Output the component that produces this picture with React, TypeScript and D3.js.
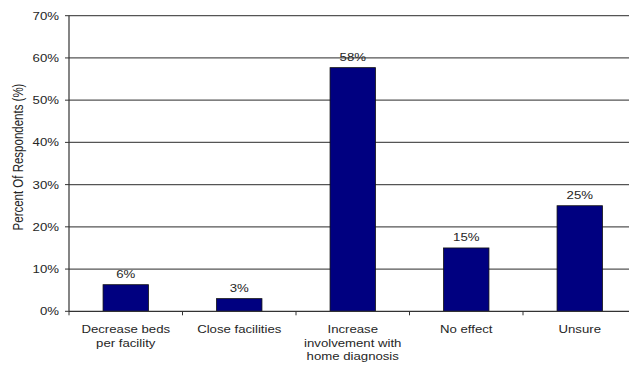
import * as d3 from 'd3';

const categories = ['Decrease beds per facility', 'Close facilities', 'Increase involvement with home diagnosis', 'No effect', 'Unsure'];
const categoryLines = [
  ['Decrease beds', 'per facility'],
  ['Close facilities'],
  ['Increase', 'involvement with', 'home diagnosis'],
  ['No effect'],
  ['Unsure'],
];
const values = [6.3, 3, 57.7, 15, 25];
const yTicks = [0, 10, 20, 30, 40, 50, 60, 70];

const W = 629;
const H = 366;
// text in the source is stretched a little horizontally
const SX = 1.2;
const FONT = 'Liberation Sans, Arial, sans-serif';
const TEXT = '#262626';

export default function App() {
  const left = 69;
  const top = 15.7;
  const bottom = 311.3;
  const step = 113.5;

  const x = d3.scaleBand<string>()
    .domain(categories)
    .range([left, left + step * categories.length])
    .paddingInner(0.6)
    .paddingOuter(0.3);

  const y = d3.scaleLinear().domain([0, 70]).range([bottom, top]);

  const boundaries = d3.range(categories.length + 1).map(i => left + i * x.step());

  return (
    <svg
      width={W}
      height={H}
      style={{ position: 'absolute', left: 0, top: 0, display: 'block', background: '#fff' }}
      fontFamily={FONT}
    >
      {/* gridlines + y ticks */}
      {yTicks.map(t => (
        <g key={t}>
          {t > 0 && (
            <line x1={left} x2={W} y1={y(t)} y2={y(t)} stroke="#555" strokeWidth={1.2} />
          )}
          <line x1={left - 4} x2={left} y1={y(t)} y2={y(t)} stroke="#333" strokeWidth={1} />
          <text
            transform={`translate(${left - 10},${y(t) + 4}) scale(${SX},1)`}
            textAnchor="end"
            fontSize={11}
            fill={TEXT}
          >
            {t}%
          </text>
        </g>
      ))}

      {/* bars */}
      {categories.map((c, i) => (
        <rect
          key={c}
          x={x(c)}
          y={y(values[i])}
          width={x.bandwidth()}
          height={bottom - y(values[i])}
          fill="#000080"
          stroke="#111"
          strokeWidth={0.8}
        />
      ))}

      {/* value labels */}
      {categories.map((c, i) => (
        <text
          key={c}
          transform={`translate(${(x(c) || 0) + x.bandwidth() / 2},${y(values[i]) - 7}) scale(${SX},1)`}
          textAnchor="middle"
          fontSize={11}
          fill={TEXT}
        >
          {Math.round(values[i])}%
        </text>
      ))}

      {/* axes */}
      <line x1={left} x2={left} y1={top} y2={bottom} stroke="#333" strokeWidth={1.2} />
      <line x1={left} x2={W} y1={bottom} y2={bottom} stroke="#333" strokeWidth={1.2} />
      {boundaries.map((bx, i) => (
        <line key={i} x1={bx} x2={bx} y1={bottom} y2={bottom + 4} stroke="#333" strokeWidth={1} />
      ))}

      {/* category labels */}
      {categories.map((c, i) => (
        <g key={c}>
          {categoryLines[i].map((line, j) => (
            <text
              key={j}
              transform={`translate(${(x(c) || 0) + x.bandwidth() / 2},${333 + j * 13.7}) scale(${SX},1)`}
              textAnchor="middle"
              fontSize={11}
              fill={TEXT}
            >
              {line}
            </text>
          ))}
        </g>
      ))}

      {/* y axis title */}
      <text
        transform={`translate(23,157) scale(${SX},1) rotate(-90)`}
        textAnchor="middle"
        fontSize={11.5}
        fill={TEXT}
      >
        Percent Of Respondents (%)
      </text>
    </svg>
  );
}
